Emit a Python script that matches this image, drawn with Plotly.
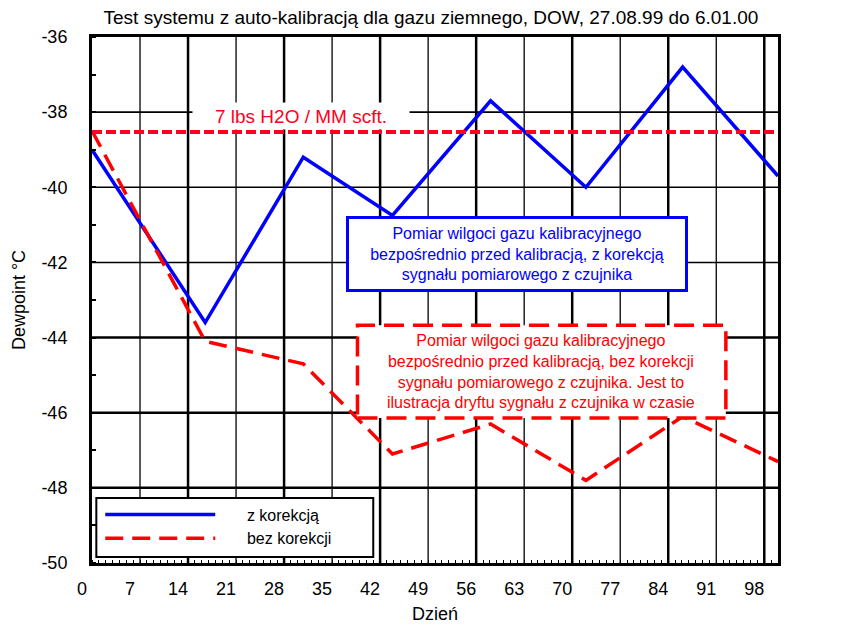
import plotly.graph_objects as go

# ---- data ----
days = [0, 16.5, 30.8, 43.8, 58.1, 72.0, 86.1, 100]
z_korekcja = [-39.0, -43.6, -39.2, -40.75, -37.7, -40.0, -36.8, -39.7]
bez_korekcji = [-38.5, -44.1, -44.7, -47.1, -46.3, -47.8, -46.1, -47.3]
threshold_dewpoint = -38.53          # 7 lbs H2O / MM scft.
x_tick_vals = list(range(0, 99, 7))
y_tick_vals = [-36, -38, -40, -42, -44, -46, -48, -50]
y_tick_text = ["-36", "-38", "-40", "-42", "-44", "-46", "-48", "-50"]
y2_tick_text = ["9.7", "7.8", "6.2", "5.0", "3.9", "3.1", "2.5", "1.9"]

FONT = "Liberation Sans, Arial, sans-serif"
X_RANGE = [0, 100]
Y_RANGE = [-50, -36]
NB = "\u00a0" * 6
PAGE_OFF = 8   # default body margin of the html page
W, H = 852 - PAGE_OFF, 626 - PAGE_OFF

fig = go.Figure()

fig.add_trace(go.Scatter(
    x=days, y=z_korekcja, mode="lines", name=NB + "z korekcją",
    line=dict(color="#0000ff", width=3.5),
))
fig.add_trace(go.Scatter(
    x=days, y=bez_korekcji, mode="lines", name=NB + "bez korekcji",
    line=dict(color="#ff0000", width=3.5, dash="18px,9px"),
))

# grid lines
shapes = []
for v in x_tick_vals[1:]:
    shapes.append(dict(type="line", xref="x", yref="y domain", x0=v, x1=v, y0=0, y1=1,
                       line=dict(color="black", width=2.5 if v % 14 == 0 else 1.3),
                       layer="below"))
for v in y_tick_vals[1:-1]:
    shapes.append(dict(type="line", xref="x domain", yref="y", x0=0, x1=1, y0=v, y1=v,
                       line=dict(color="black", width=2.5 if v <= -44 else 1.6),
                       layer="below"))
# red dashed note box
shapes.append(dict(type="rect", xref="x", yref="y", x0=38.7, x1=92.4, y0=-46.14, y1=-43.67,
                   fillcolor="white", line=dict(color="#ff0000", width=3.5, dash="20px,9px"),
                   layer="above"))
# legend frame
shapes.append(dict(type="rect", xref="paper", yref="paper", x0=0.0063, x1=0.41, y0=0.0114, y1=0.1236,
                   fillcolor="white", line=dict(color="black", width=2), layer="above"))
fig.update_layout(shapes=shapes)

fig.add_hline(y=threshold_dewpoint, line=dict(color="#ff0022", width=4, dash="10px,4px"), layer="above")

annotations = [
    dict(text="7 lbs H2O / MM scft.", x=30.5, y=-38.1, xref="x", yref="y", showarrow=False,
         font=dict(family=FONT, size=19, color="#ff0022"), bgcolor="white", width=214, height=24),
    dict(text="Pomiar wilgoci gazu kalibracyjnego<br>bezpośrednio przed kalibracją, z korekcją<br>sygnału pomiarowego z czujnika",
         x=62.0, y=-41.78, xref="x", yref="y", showarrow=False,
         font=dict(family=FONT, size=16, color="#0000ff"), bgcolor="white",
         bordercolor="#0000ff", borderwidth=3, borderpad=0, width=336, height=70),
    dict(text="Pomiar wilgoci gazu kalibracyjnego<br>bezpośrednio przed kalibracją, bez korekcji<br>sygnału pomiarowego z czujnika. Jest to<br>ilustracja dryftu sygnału z czujnika w czasie",
         x=65.5, y=-44.9, xref="x", yref="y", showarrow=False,
         font=dict(family=FONT, size=16, color="#ff0000")),
]
fig.update_layout(annotations=annotations)

fig.update_layout(
    width=W, height=H,
    margin=dict(l=92 - PAGE_OFF, r=74, t=37 - PAGE_OFF, b=63, autoexpand=False),
    paper_bgcolor="white", plot_bgcolor="white",
    font=dict(family=FONT, size=18, color="black"),
    title=dict(text="Test systemu z auto-kalibracją dla gazu ziemnego, DOW, 27.08.99 do 6.01.00",
               x=(425 - PAGE_OFF) / W, xref="paper", xanchor="center", y=1 - (17 - PAGE_OFF) / H,
               yanchor="middle", automargin=False, font=dict(family=FONT, size=19, color="black")),
    showlegend=True,
    legend=dict(x=0.012, y=0.1245, xanchor="left", yanchor="top",
                bgcolor="rgba(0,0,0,0)", borderwidth=0, itemwidth=110,
                font=dict(family=FONT, size=16, color="black")),
    xaxis=dict(range=X_RANGE, tickvals=x_tick_vals, ticks="", showgrid=False, zeroline=False,
               automargin=False,
               showline=True, linecolor="black", linewidth=3, mirror=True,
               ticklabelshift=-10, ticklabelstandoff=7,
               minor=dict(dtick=1, tick0=0, ticks="inside", ticklen=3, tickcolor="black", tickwidth=1),
               title=dict(text="Dzień", font=dict(family=FONT, size=18), standoff=10)),
    yaxis=dict(range=Y_RANGE, tickvals=y_tick_vals, ticktext=y_tick_text, ticks="",
               showgrid=False, zeroline=False, automargin=False,
               showline=True, linecolor="black", linewidth=3, mirror=True,
               ticklabelstandoff=18,
               minor=dict(dtick=1, tick0=-50, ticks="inside", ticklen=4, tickcolor="black", tickwidth=2),
               title=dict(text="Dewpoint °C", font=dict(family=FONT, size=18), standoff=12)),
    yaxis2=dict(range=Y_RANGE, overlaying="y", side="right", tickvals=y_tick_vals,
                ticktext=y2_tick_text, ticks="", showgrid=False, zeroline=False, showline=False,
                automargin=False, ticklabelstandoff=4,
                title=dict(text="lbs H2O / MM scft.", font=dict(family=FONT, size=18), standoff=12)),
)

fig.write_html("out.html")
